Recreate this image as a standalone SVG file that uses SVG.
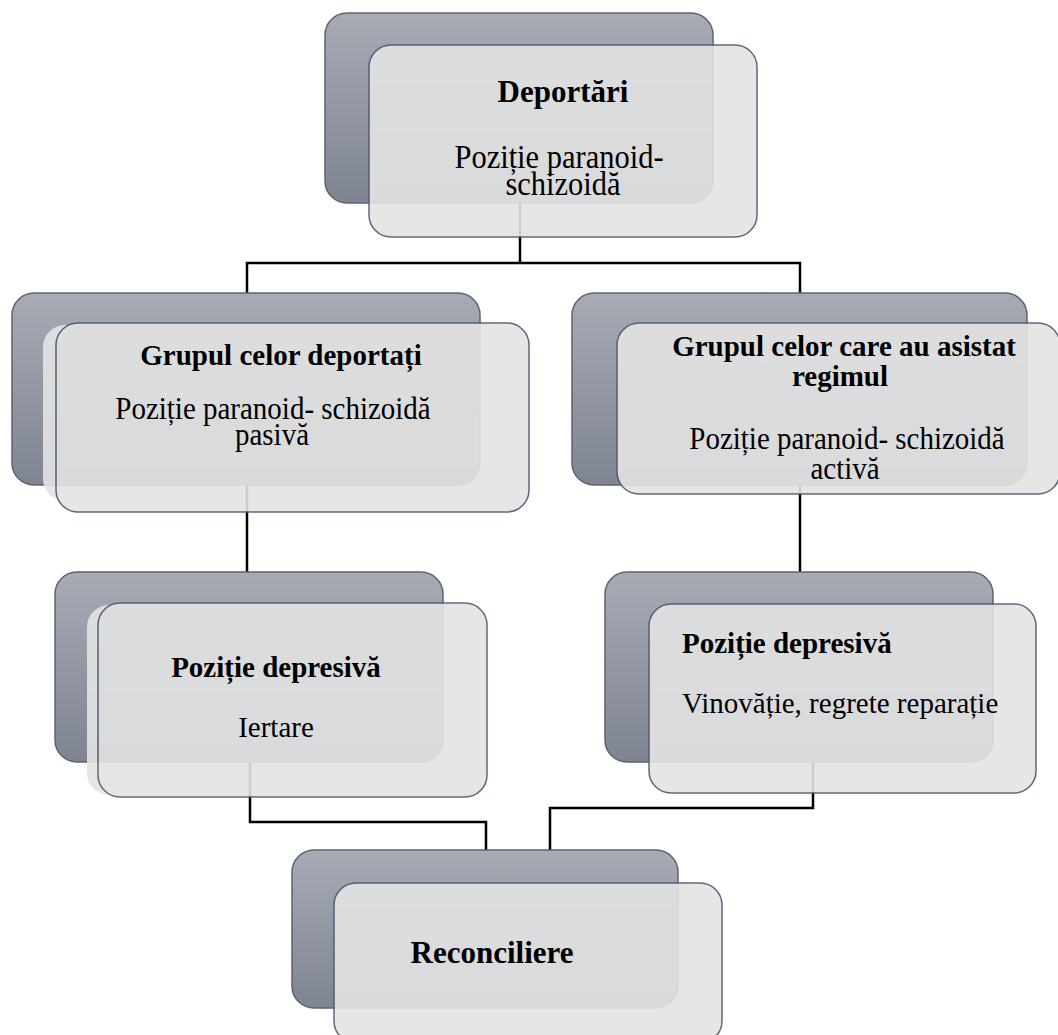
<svg xmlns="http://www.w3.org/2000/svg" width="1058" height="1035" viewBox="0 0 1058 1035">
<defs>
<linearGradient id="dk" x1="0" y1="0" x2="0" y2="1">
<stop offset="0" stop-color="#a7abb4"/>
<stop offset="1" stop-color="#7e8491"/>
</linearGradient>
<style>
.back{fill:url(#dk);stroke:#5f646c;stroke-width:1.5}
.front{fill:#e4e4e4;stroke:#4a5a72;stroke-width:1.5}
.glow{fill:#e4e4e4;stroke:none}
.fg{opacity:0.9}
.con{fill:none;stroke:#000;stroke-width:2.5}
text{font-family:"Liberation Serif","Times New Roman",serif;fill:#000}
.b{font-weight:bold}
.c{text-anchor:middle}
</style>
</defs>
<rect width="1058" height="1035" fill="#fff"/>
<g id="connectors">
<path class="con" d="M520 203 V263"/>
<path class="con" d="M247 293 V263 H800 V293"/>
<path class="con" d="M247 485 V572"/>
<path class="con" d="M800 485 V572"/>
<path class="con" d="M250 762 V822 H486 V850"/>
<path class="con" d="M813 762 V808 H550 V850"/>
</g>
<g id="node-deportari">
<rect class="back" x="325" y="13" width="388" height="190" rx="22"/>
<g class="fg"><rect class="front" x="369" y="45" width="388" height="192" rx="22"/></g>
<text class="b c" x="563" y="102" font-size="31">Deportări</text>
<text class="c" transform="translate(559,168) scale(1,1.12)" font-size="30.5">Poziție paranoid-</text>
<text class="c" transform="translate(563,195) scale(1,1.12)" font-size="30.5">schizoidă</text>
</g>
<g id="node-deportati">
<rect class="back" x="12" y="293" width="468" height="192" rx="22"/>
<g class="fg">
<rect class="glow" x="43" y="325" width="473" height="176" rx="22"/>
<rect class="front" x="56" y="323" width="473" height="189" rx="22"/>
</g>
<text class="b c" x="281" y="365" font-size="29">Grupul celor deportați</text>
<text class="c" transform="translate(273,419) scale(1,1.12)" font-size="29">Poziție paranoid- schizoidă</text>
<text class="c" transform="translate(272,445) scale(1,1.12)" font-size="29">pasivă</text>
</g>
<g id="node-regim">
<rect class="back" x="572" y="293" width="455" height="192" rx="22"/>
<g class="fg"><rect class="front" x="617" y="323" width="443" height="171" rx="22"/></g>
<text class="b c" x="844" y="356" font-size="29">Grupul celor care au asistat</text>
<text class="b c" x="840" y="386" font-size="29">regimul</text>
<text class="c" transform="translate(847,449) scale(1,1.12)" font-size="29">Poziție paranoid- schizoidă</text>
<text class="c" transform="translate(845,479) scale(1,1.12)" font-size="29">activă</text>
</g>
<g id="node-iertare">
<rect class="back" x="55" y="572" width="388" height="190" rx="22"/>
<g class="fg">
<rect class="glow" x="87" y="605" width="389" height="190" rx="22"/>
<rect class="front" x="98" y="603" width="389" height="194" rx="22"/>
</g>
<text class="b c" x="276" y="677" font-size="29">Poziție depresivă</text>
<text class="c" x="276" y="737" font-size="29">Iertare</text>
</g>
<g id="node-vinovatie">
<rect class="back" x="605" y="572" width="388" height="190" rx="22"/>
<g class="fg"><rect class="front" x="649" y="604" width="387" height="189" rx="22"/></g>
<text class="b" x="682" y="653" font-size="29">Poziție depresivă</text>
<text x="682" y="713" font-size="29">Vinovăție, regrete reparație</text>
</g>
<g id="node-reconciliere">
<rect class="back" x="292" y="850" width="386" height="158" rx="22"/>
<g class="fg"><rect class="front" x="334" y="883" width="388" height="160" rx="22"/></g>
<text class="b c" x="492" y="963" font-size="31">Reconciliere</text>
</g>
</svg>
